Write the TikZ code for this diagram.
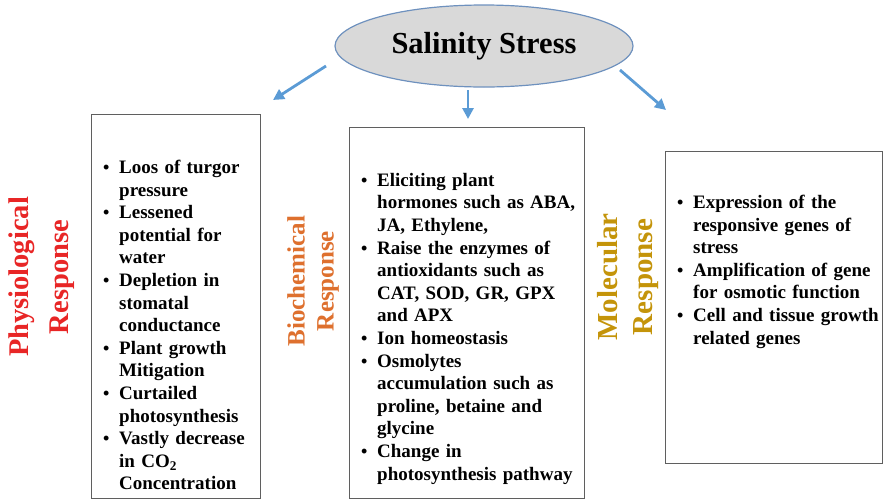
\documentclass[tikz,border=0pt]{standalone}
\usepackage{fontspec}
\setmainfont{Liberation Serif}
\usetikzlibrary{shapes.geometric,arrows.meta}
\definecolor{physred}{RGB}{232,38,38}
\definecolor{biochorange}{RGB}{222,112,46}
\definecolor{molgold}{RGB}{196,148,10}
\definecolor{arrowblue}{RGB}{91,155,213}
\definecolor{ellfill}{RGB}{217,217,217}
\definecolor{ellborder}{RGB}{110,145,190}
\definecolor{boxgray}{RGB}{95,95,95}
\newcommand\bitem[1]{\noindent\hangindent=16pt\hangafter=1\makebox[16pt][l]{\fontsize{18}{18}\selectfont\textbullet}#1\par}
\tikzset{
  respbox/.style={draw=boxgray, line width=1pt, anchor=north west, inner sep=0pt},
  itemtext/.style={anchor=north west, inner sep=0pt, align=left,
    font=\fontsize{19}{22.6}\selectfont\bfseries},
  sidelabel/.style={rotate=90, align=center, inner sep=0pt, font=\bfseries},
  flowarrow/.style={draw=arrowblue, line width=2.8pt, -{Triangle[length=11pt,width=11pt]}}
}
\begin{document}
\begin{tikzpicture}[x=1pt,y=-1pt]
\useasboundingbox (0,0) rectangle (883,501);
% central ellipse
\node (stress) [ellipse, draw=ellborder, line width=1.2pt, fill=ellfill,
  minimum width=298pt, minimum height=82pt, inner sep=0pt,
  font=\fontsize{30.5}{34}\selectfont\bfseries] at (484,46) {Salinity Stress};
% boxes
\node (pbox) [respbox, minimum width=169pt, minimum height=384pt] at (91,114) {};
\node (bbox) [respbox, minimum width=235pt, minimum height=371pt] at (349,127) {};
\node (mbox) [respbox, minimum width=217pt, minimum height=312pt] at (665,151) {};
% arrows
\coordinate (a1s) at (326,66);  \coordinate (a1e) at (273,100);
\coordinate (a2s) at (468,90);  \coordinate (a2e) at (468,119);
\coordinate (a3s) at (620,70);  \coordinate (a3e) at (666,110);
\draw[flowarrow] (a1s) -- (a1e);
\draw[flowarrow] (a2s) -- (a2e);
\draw[flowarrow] (a3s) -- (a3e);
% side labels
\node (plabel) [sidelabel, text=physred, font=\fontsize{28.5}{40}\selectfont\bfseries] at (42,277) {Physiological\\Response};
\node (blabel) [sidelabel, text=biochorange, font=\fontsize{25}{29}\selectfont\bfseries] at (313,281) {Biochemical\\Response};
\node (mlabel) [sidelabel, text=molgold, font=\fontsize{29}{35}\selectfont\bfseries] at (628,277) {Molecular\\Response};
% item lists
\node (ptext) [itemtext, text width=155pt] at (103,160) {%
\bitem{Loos of turgor\newline pressure}%
\bitem{Lessened\newline potential for\newline water}%
\bitem{Depletion in\newline stomatal\newline conductance}%
\bitem{Plant growth\newline Mitigation}%
\bitem{Curtailed\newline photosynthesis}%
\bitem{Vastly decrease\newline in CO\textsubscript{2}\newline Concentration}};
\node (btext) [itemtext, text width=220pt] at (361,173) {%
\bitem{Eliciting plant\newline hormones such as ABA,\newline JA, Ethylene,}%
\bitem{Raise the enzymes of\newline antioxidants such as\newline CAT, SOD, GR, GPX\newline and APX}%
\bitem{Ion homeostasis}%
\bitem{Osmolytes\newline accumulation such as\newline proline, betaine and\newline glycine}%
\bitem{Change in\newline photosynthesis pathway}};
\node (mtext) [itemtext, text width=210pt] at (677,195) {%
\bitem{Expression of the\newline responsive genes of\newline stress}%
\bitem{Amplification of gene\newline for osmotic function}%
\bitem{Cell and tissue growth\newline related genes}};
\end{tikzpicture}
\end{document}
